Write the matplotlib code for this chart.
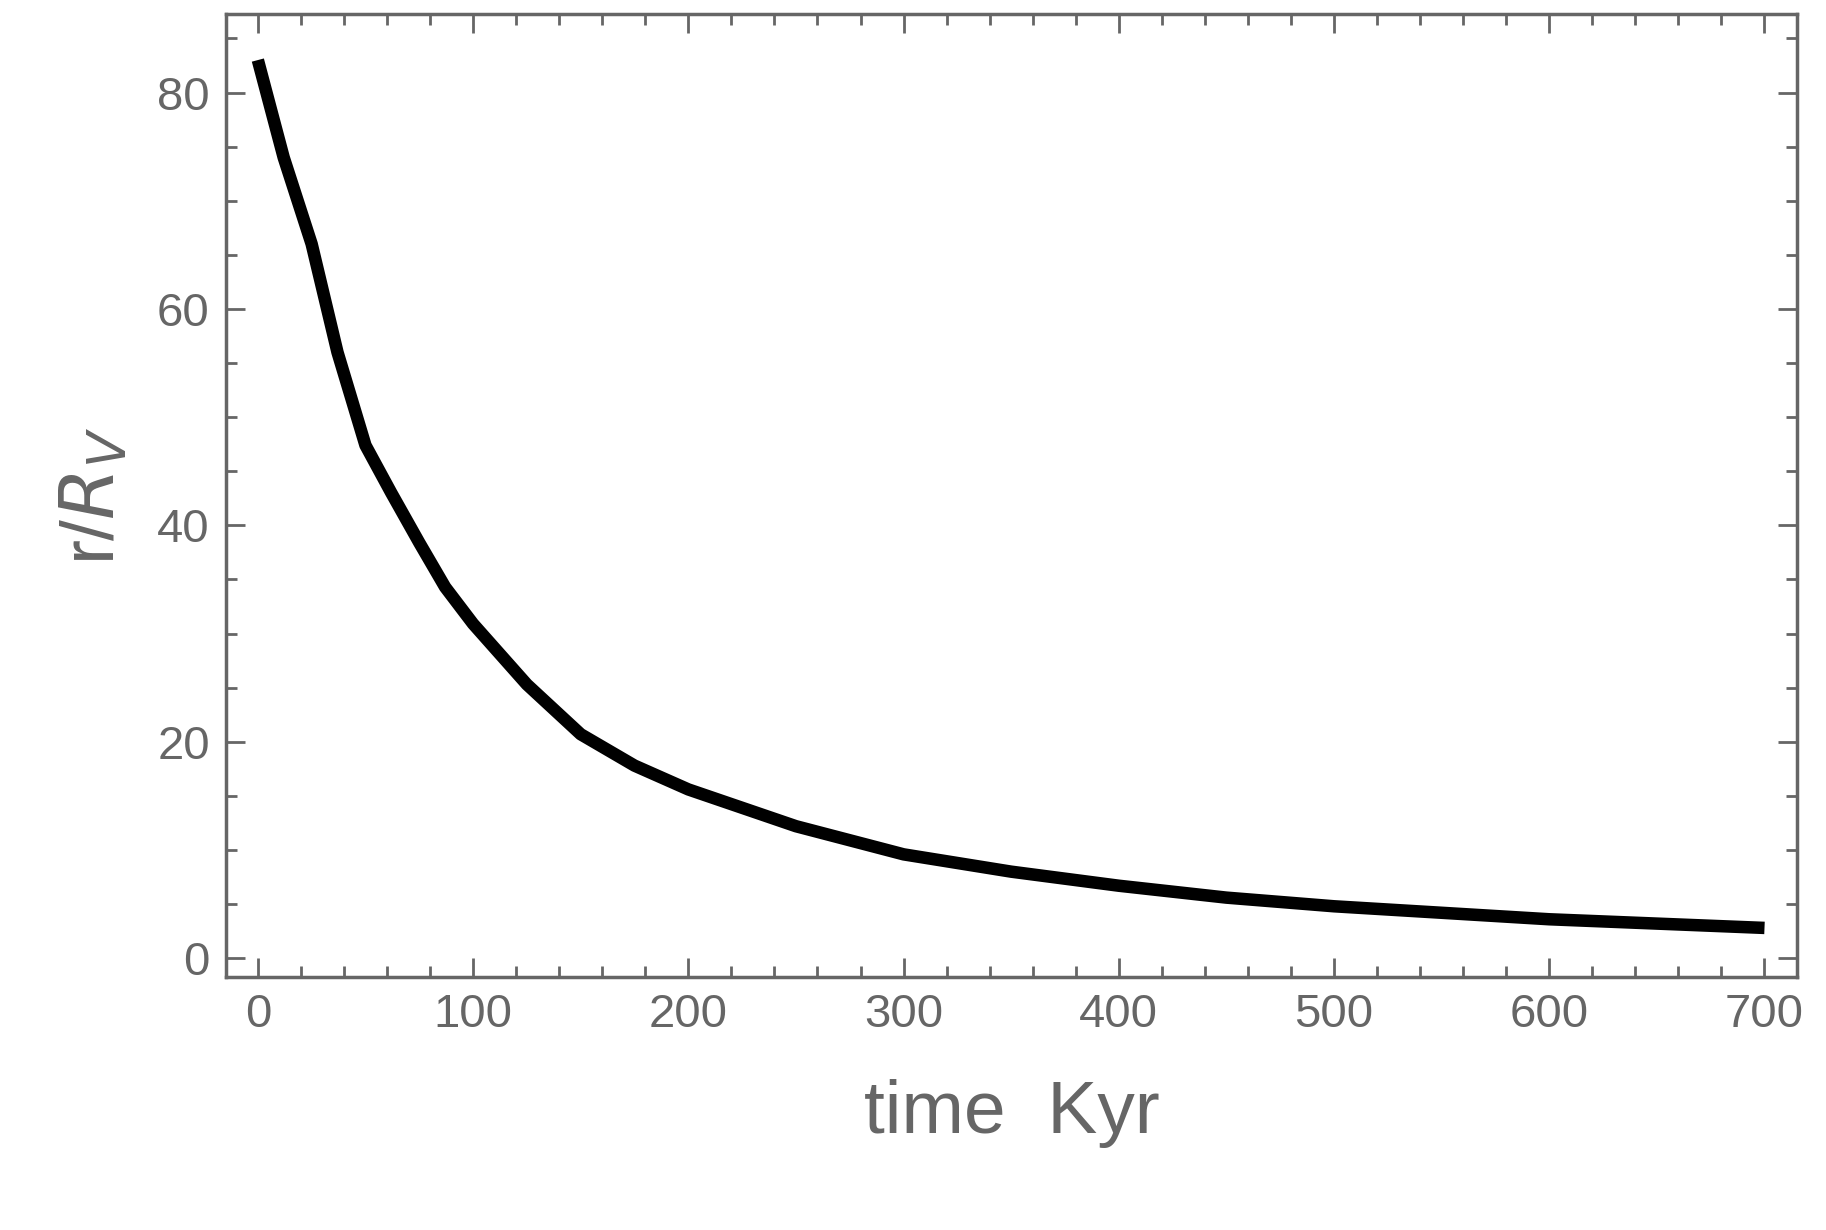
import matplotlib.pyplot as plt
from matplotlib.ticker import MultipleLocator

GREY = "#666666"

time_kyr = [0, 12, 25, 37, 50, 62, 75, 87, 100, 125, 150, 175, 200, 250, 300,
            350, 400, 450, 500, 550, 600, 650, 700]
radius = [83.0, 74.0, 66.0, 56.0, 47.4, 43.0, 38.4, 34.3, 30.9, 25.3, 20.7, 17.8,
          15.6, 12.2, 9.6, 8.0, 6.7, 5.6, 4.8, 4.2, 3.6, 3.2, 2.8]

plt.rcParams["font.family"] = ["Liberation Sans", "DejaVu Sans"]
fig = plt.figure(figsize=(18.26, 12.30), dpi=100)
ax = fig.add_axes([0.124, 0.206, 0.86, 0.783])

ax.plot(time_kyr, radius, color="black", linewidth=9, solid_capstyle="butt")

ax.set_xlim(-14.6, 715)
ax.set_ylim(-1.7, 87.3)
ax.xaxis.set_major_locator(MultipleLocator(100))
ax.xaxis.set_minor_locator(MultipleLocator(20))
ax.yaxis.set_major_locator(MultipleLocator(20))
ax.yaxis.set_minor_locator(MultipleLocator(5))
ax.tick_params(which="both", direction="in", top=True, right=True, color=GREY,
               labelcolor=GREY, labelsize=34, width=2, pad=12)
ax.tick_params(which="major", length=14)
ax.tick_params(which="minor", length=8)
for s in ax.spines.values():
    s.set_color(GREY)
    s.set_linewidth(2.5)

ax.set_xlabel("time  Kyr", fontsize=54, color=GREY, labelpad=30)
ax.set_ylabel(r"r/$R_V$", fontsize=54, color=GREY, labelpad=20)

fig.savefig("out.png", dpi=100, facecolor="white")
